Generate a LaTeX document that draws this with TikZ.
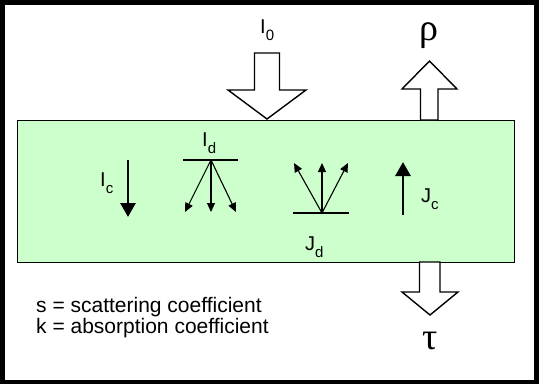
\documentclass[tikz,border=0pt]{standalone}
\usepackage{fontspec}
\setmainfont{Liberation Sans}
\newfontfamily\greekfont{Liberation Serif}
\usetikzlibrary{arrows.meta,positioning}
\definecolor{slabgreen}{RGB}{204,255,204}
\newcommand\lowsub[1]{\raisebox{-7pt}{\fontsize{15}{15}\selectfont #1}}

\begin{document}
\begin{tikzpicture}[x=1pt, y=-1pt,
  font=\fontsize{20}{24}\selectfont,
  slab/.style={draw=black, line width=1.3pt, fill=slabgreen, inner sep=0pt,
               minimum width=497pt, minimum height=142pt},
  hollow/.style={draw=black, line width=1.4pt, fill=white, line join=miter},
  beam/.style={line width=2.8pt, -{Triangle[length=14pt,width=15pt]}},
  ray/.style={line width=1.1pt, -{Triangle[length=9pt,width=8pt]}},
  bar/.style={line width=1.3pt},
  lbl/.style={inner sep=0pt, anchor=base west},
  greek/.style={inner sep=0pt, anchor=base, font=\greekfont\fontsize{38}{40}\selectfont},
  legend/.style={inner sep=0pt, anchor=base west, font=\fontsize{21}{24}\selectfont}]
  \useasboundingbox (0,0) rectangle (539,384);
  \fill[white] (0,0) rectangle (539,384);
  \draw[line width=4.5pt] (2.25,2.25) rectangle (536.5,381.75);
  \node[slab, anchor=north west] (slab) at (17,120) {};
  % incident, reflected and transmitted flux
  \draw[hollow] (254.5,53) -- (279.5,53) -- (279.5,90) -- (306,90) -- (267,119)
    -- (228,90) -- (254.5,90) -- cycle;
  \draw[hollow] (420.5,120) -- (420.5,89) -- (402,89) -- (429.5,61) -- (457,89)
    -- (438,89) -- (438,120) -- cycle;
  \draw[hollow] (419.5,262) -- (419.5,292) -- (402,292) -- (430,315) -- (458,292)
    -- (440,292) -- (440,262) -- cycle;
  \node[lbl] (io) at (260,33) {I\lowsub{0}};
  \node[greek] (rho) at (429,40) {ρ};
  \node[greek] (tau) at (430,349) {τ};
  % collimated beams
  \coordinate (icTop) at (128,160);
  \coordinate (icBot) at (128,217);
  \draw[beam] (icTop) -- (icBot);
  \node[lbl] (ic) at (100,186) {I\lowsub{c}};
  \coordinate (jcBot) at (403,215);
  \coordinate (jcTop) at (403,162);
  \draw[beam] (jcBot) -- (jcTop);
  \node[lbl] (jc) at (421,202) {J\lowsub{c}};
  % diffuse fluxes
  \coordinate (idBarL) at (183,160);
  \coordinate (idBarR) at (238,160);
  \coordinate (idSrc) at (211,160);
  \coordinate (idL) at (185,212);
  \coordinate (idC) at (211,212);
  \coordinate (idR) at (236,212);
  \draw[bar] (idBarL) -- (idBarR);
  \draw[ray] (idSrc) -- (idL);
  \draw[ray] (idSrc) -- (idC);
  \draw[ray] (idSrc) -- (idR);
  \node[lbl] (id) at (202,146) {I\lowsub{d}};
  \coordinate (jdBarL) at (293,213);
  \coordinate (jdBarR) at (349,213);
  \coordinate (jdSrc) at (322,213);
  \coordinate (jdL) at (294,163);
  \coordinate (jdC) at (322,163);
  \coordinate (jdR) at (348,163);
  \draw[bar] (jdBarL) -- (jdBarR);
  \draw[ray] (jdSrc) -- (jdL);
  \draw[ray] (jdSrc) -- (jdC);
  \draw[ray] (jdSrc) -- (jdR);
  \node[lbl] (jd) at (305,250) {J\lowsub{d}};
  \node[legend] (legS) at (36,312) {s = scattering coefficient};
  \node[legend] (legK) at (36,333) {k = absorption coefficient};
\end{tikzpicture}
\end{document}
